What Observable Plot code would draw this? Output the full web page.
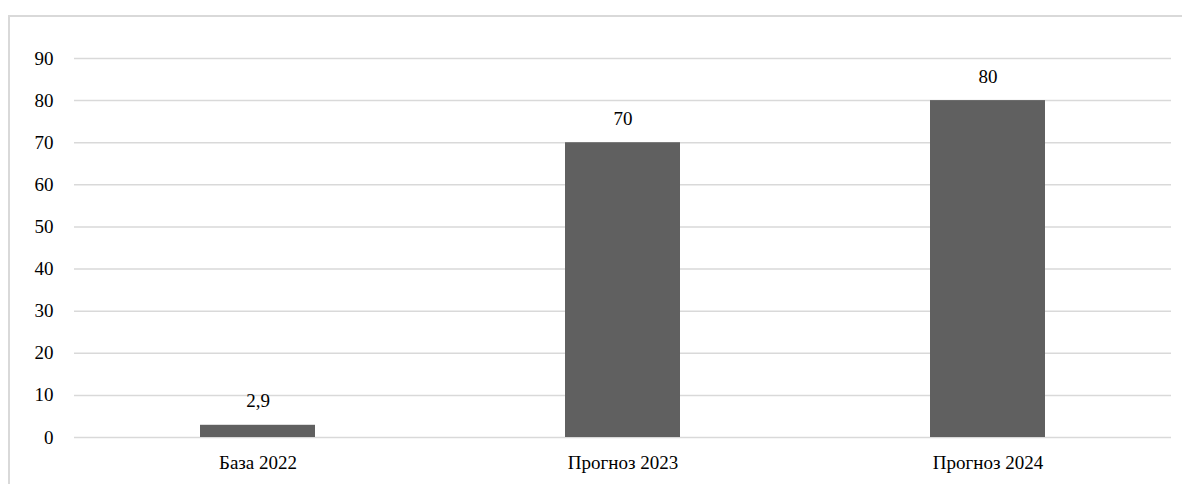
<!DOCTYPE html>
<html>
<head>
<meta charset="utf-8">
<script src="https://cdn.jsdelivr.net/npm/d3@7"></script>
<script src="https://cdn.jsdelivr.net/npm/@observablehq/plot@0.6"></script>
</head>
<body style="margin:0">
<div id="border" style="position:absolute;left:8px;top:15px;width:1300px;height:600px;border:2px solid #d9d9d9;box-sizing:border-box;"></div>
<div id="chart"></div>
<script>
const categories = ["База 2022", "Прогноз 2023", "Прогноз 2024"];
const values = [2.9, 70, 80];
const labels = ["2,9", "70", "80"];
const yTicks = [0, 10, 20, 30, 40, 50, 60, 70, 80, 90];

const data = categories.map((c, i) => ({cat: c, value: values[i], label: labels[i]}));

const chart = Plot.plot({
  width: 1182,
  height: 484,
  marginLeft: 74,
  marginRight: 11,
  marginTop: 58,
  marginBottom: 47,
  style: {fontFamily: "Times New Roman", fontSize: "19px", background: "none"},
  x: {domain: categories, paddingInner: 0.685, paddingOuter: 0.3425, label: null, tickSize: 0, tickPadding: 18},
  y: {domain: [0, 90], ticks: yTicks, label: null, tickSize: 0, tickPadding: 21},
  marks: [
    Plot.ruleY(yTicks, {stroke: "#d9d9d9", strokeWidth: 1.5}),
    Plot.barY(data, {x: "cat", y: "value", fill: "#606060"}),
    Plot.text(data, {x: "cat", y: "value", text: "label", dy: -24, fill: "#000", fontFamily: "Times New Roman"})
  ]
});
document.getElementById("chart").appendChild(chart);
</script>
</body>
</html>
